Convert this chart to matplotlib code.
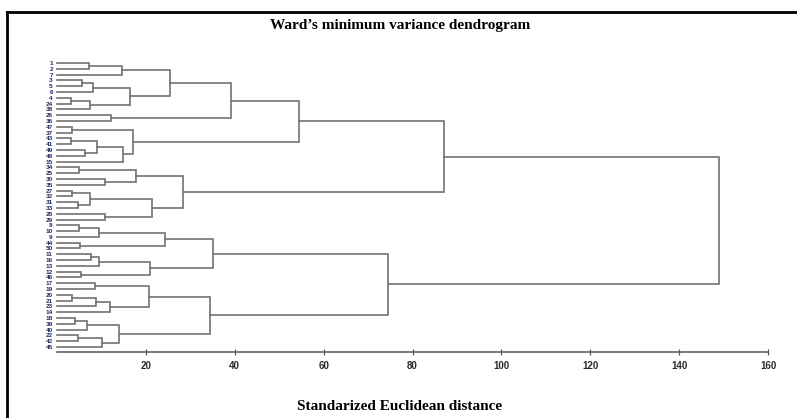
import matplotlib
matplotlib.use("Agg")
import matplotlib.pyplot as plt
from matplotlib.lines import Line2D

# Leaf labels, top to bottom
leaf_labels = ["1", "2", "7", "3", "5", "6", "4", "24", "38", "26",
               "36", "47", "37", "43", "41", "49", "48", "15", "34", "25",
               "30", "35", "27", "32", "31", "33", "28", "29", "8", "10",
               "9", "44", "50", "11", "16", "13", "12", "46", "17", "19",
               "20", "21", "23", "14", "18", "39", "40", "22", "42", "45"]

# Merges (scipy-like): ids < 50 are leaf positions, id 50+k is merge k
merge_left = [0, 50, 3, 52, 6, 54, 53, 51, 9, 57,
              11, 13, 15, 61, 63, 60, 59,
              18, 20, 67,
              22, 24, 70, 26, 72, 69, 66,
              28, 77, 31, 78,
              33, 81, 36, 82, 80,
              38, 40, 87, 88, 86,
              44, 91, 47, 93, 92, 90, 85, 76]
merge_right = [1, 2, 4, 5, 7, 8, 55, 56, 10, 58,
               12, 14, 16, 62, 17, 64, 65,
               19, 21, 68,
               23, 25, 71, 27, 73, 74, 75,
               29, 30, 32, 79,
               34, 35, 37, 83, 84,
               39, 41, 42, 43, 89,
               45, 46, 48, 49, 94, 95, 96, 97]
merge_height = [7.2, 14.6, 5.6, 8.1, 3.2, 7.4, 16.4, 25.4, 12.2, 39.2,
                3.4, 3.1, 6.4, 9.0, 14.8, 17.1, 54.5,
                5.0, 10.8, 17.7,
                3.4, 4.7, 7.4, 10.8, 21.3, 28.4, 87.0,
                5.0, 9.5, 5.1, 24.3,
                7.6, 9.5, 5.4, 21.0, 35.0,
                8.5, 3.4, 8.8, 12.0, 20.7,
                4.0, 6.8, 4.7, 10.1, 13.9, 34.5, 74.5, 149.0]

x_ticks = [20, 40, 60, 80, 100, 120, 140, 160]

W, H = 797, 418
fig = plt.figure(figsize=(W / 100, H / 100), dpi=100)

# outer frame (top and left edges visible)
fig.add_artist(Line2D([7 / W, 7 / W], [0, 1 - 12 / H], transform=fig.transFigure,
                      color="black", lw=2))
fig.add_artist(Line2D([7 / W, 1], [1 - 12 / H, 1 - 12 / H], transform=fig.transFigure,
                      color="black", lw=2))

left_px, right_px = 57, 768
top_px, bot_px = 60, 352
ax = fig.add_axes([left_px / W, 1 - bot_px / H, (right_px - left_px) / W, (bot_px - top_px) / H])

n = len(leaf_labels)
pos = {i: float(i) for i in range(n)}
hgt = {i: 0.0 for i in range(n)}
line_color = "#727272"
for k, (a, b, h) in enumerate(zip(merge_left, merge_right, merge_height)):
    ya, yb = pos[a], pos[b]
    ax.plot([hgt[a], h, h, hgt[b]], [ya, ya, yb, yb], color=line_color, lw=1.2,
            solid_joinstyle="miter", clip_on=False)
    pos[n + k] = (ya + yb) / 2
    hgt[n + k] = h

ax.set_xlim(0, 160)
ax.set_ylim(49.86, -0.52)
ax.set_yticks(range(n))
ax.set_yticklabels(leaf_labels, fontsize=4.6, fontweight="bold", color="#1f2a60",
                   family="Liberation Sans")
ax.tick_params(axis="y", length=0, pad=3)
ax.set_xticks(x_ticks)
ax.set_xticklabels([str(t) for t in x_ticks], fontsize=7, fontweight="bold",
                   family="Liberation Sans", color="#2a2a2a")
ax.tick_params(axis="x", direction="inout", length=5, width=0.9, color="#555555", pad=4)
for s in ["top", "right", "left"]:
    ax.spines[s].set_visible(False)
ax.spines["bottom"].set_color("#555555")
ax.spines["bottom"].set_linewidth(1.1)

fig.text(400 / W, 1 - 26 / H, "Ward\u2019s minimum variance dendrogram",
         ha="center", va="center", fontsize=11, fontweight="bold",
         family="Liberation Serif")
fig.text(400 / W, 1 - 407 / H, "Standarized Euclidean distance",
         ha="center", va="center", fontsize=11, fontweight="bold",
         family="Liberation Serif")

fig.savefig("out.png", dpi=100)
